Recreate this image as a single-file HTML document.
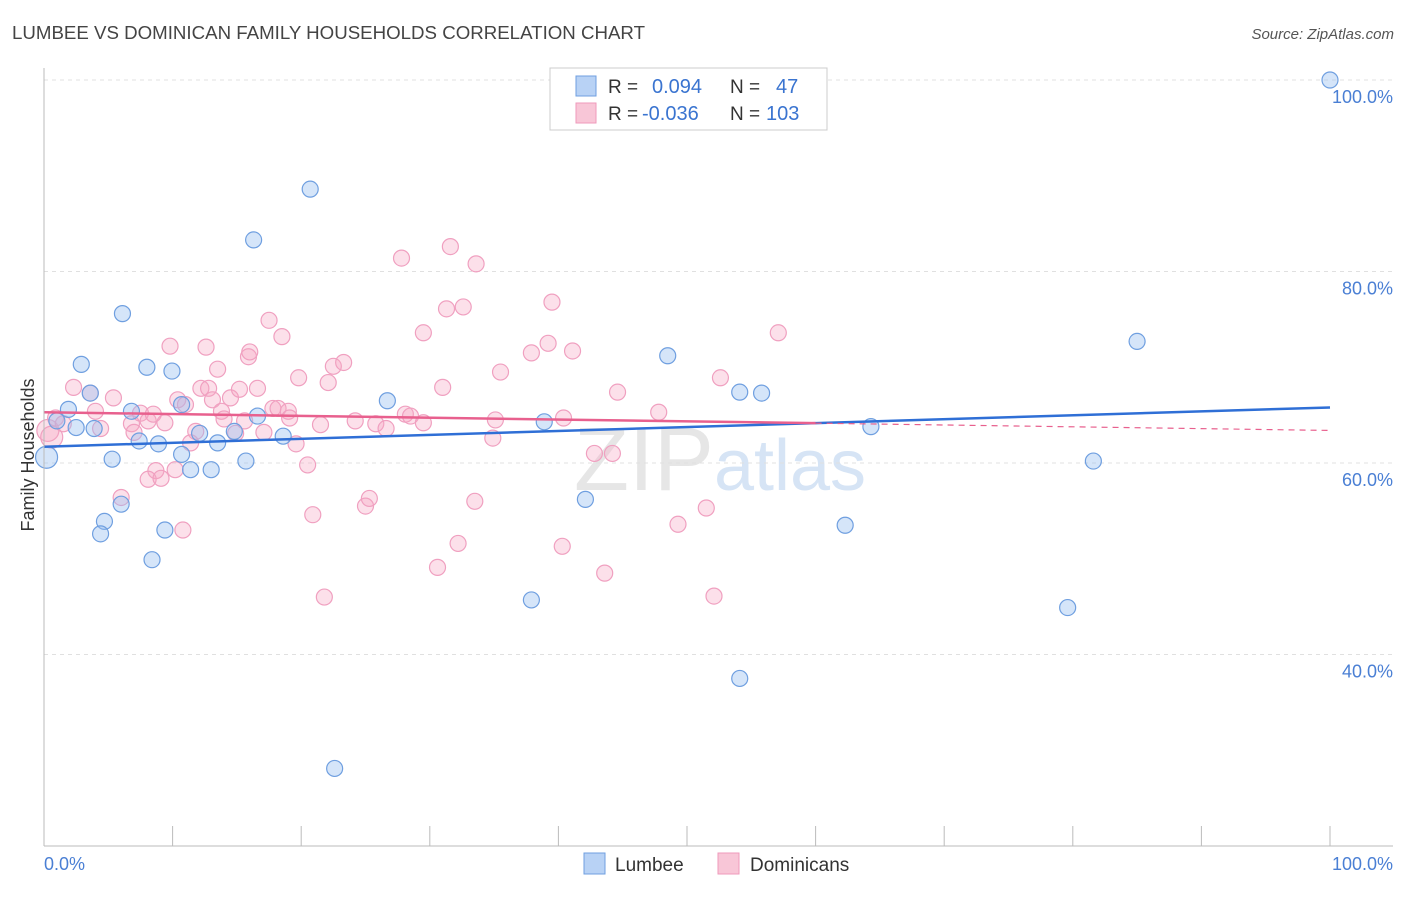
<!DOCTYPE html>
<html><head><meta charset="utf-8"><style>
body{margin:0;background:#fff;font-family:"Liberation Sans",sans-serif;}
svg text{font-family:"Liberation Sans",sans-serif;}
</style></head><body>
<svg id="chart" width="1406" height="892">
<text x="12" y="39" font-size="18" fill="#444" textLength="633" lengthAdjust="spacingAndGlyphs">LUMBEE VS DOMINICAN FAMILY HOUSEHOLDS CORRELATION CHART</text>
<text x="1394" y="39" font-size="15" fill="#555" font-style="italic" text-anchor="end">Source: ZipAtlas.com</text>
<text x="720" y="490" font-size="90" fill="#e6e6e6" text-anchor="middle" font-family="Liberation Serif">ZIP<tspan fill="#d6e4f5" font-family="Liberation Sans" font-size="72">atlas</tspan></text>
<text transform="translate(34,455) rotate(-90)" font-size="18" fill="#333" text-anchor="middle">Family Households</text>
<g id="grid"></g><g id="pts"></g><g id="lines"></g>
<line x1="44" y1="68" x2="44" y2="846" stroke="#bbb"/>
<line x1="44" y1="846" x2="1393" y2="846" stroke="#bbb"/>
<text x="44" y="870" font-size="18" fill="#4a7fd4">0.0%</text>
<text x="1393" y="870" font-size="18" fill="#4a7fd4" text-anchor="end">100.0%</text>
<g>
<rect x="550" y="68" width="277" height="62" fill="#fff" stroke="#ccc"/>
<rect x="576" y="76" width="20" height="20" fill="#b8d2f5" stroke="#6f9fe0"/>
<rect x="576" y="103" width="20" height="20" fill="#f8c6d7" stroke="#ef9abb"/>
<text x="608" y="93" font-size="19" fill="#333">R =</text>
<text x="652" y="93" font-size="20" fill="#3a74d0">0.094</text>
<text x="730" y="93" font-size="19" fill="#333">N =</text>
<text x="776" y="93" font-size="20" fill="#3a74d0">47</text>
<text x="608" y="120" font-size="19" fill="#333">R =</text>
<text x="642" y="120" font-size="20" fill="#3a74d0">-0.036</text>
<text x="730" y="120" font-size="19" fill="#333">N =</text>
<text x="766" y="120" font-size="20" fill="#3a74d0">103</text>
</g>
<g>
<rect x="584" y="853" width="21" height="21" fill="#b8d2f5" stroke="#6f9fe0"/>
<text x="615" y="871" font-size="19" fill="#333">Lumbee</text>
<rect x="718" y="853" width="21" height="21" fill="#f8c6d7" stroke="#ef9abb"/>
<text x="750" y="871" font-size="19" fill="#333">Dominicans</text>
</g>
</svg>
<script>
const yTicks=[100,80,60,40];
const xTicks=[0,10,20,30,40,50,60,70,80,90,100];
const blueX=[100,20.7,16.3,6.1,2.9,8.0,9.95,48.5,85.0,26.7,54.1,55.8,1.9,1.0,3.6,6.8,10.7,16.6,38.9,2.5,3.9,7.4,8.9,12.1,13.5,14.8,18.6,64.3,0.2,5.3,10.7,11.4,13.0,15.7,81.6,42.1,6.0,4.7,4.4,9.4,62.3,8.4,37.9,79.6,54.1,22.6];
const blueY=[100,88.6,83.3,75.6,70.3,70.0,69.6,71.2,72.7,66.5,67.4,67.3,65.6,64.4,67.3,65.4,66.1,64.9,64.3,63.7,63.6,62.3,62.0,63.1,62.1,63.3,62.8,63.8,60.6,60.4,60.9,59.3,59.3,60.2,60.2,56.2,55.7,53.9,52.6,53.0,53.5,49.9,45.7,44.9,37.5,28.1];
const pinkX=[0.3,0.6,0.9,1.5,2.3,3.6,4.0,4.4,5.4,6.0,6.8,7.0,7.5,8.1,8.5,8.7,8.1,9.1,9.4,9.8,10.2,10.4,10.8,11.0,11.4,11.8,12.2,12.6,12.8,13.1,13.5,13.8,14.0,14.5,14.9,15.2,15.6,15.9,16.0,16.6,17.1,17.5,17.8,18.2,18.5,19.0,19.1,19.6,19.8,20.5,20.9,21.5,21.8,22.1,22.5,23.3,24.2,25.0,25.3,25.8,26.6,27.8,28.1,28.5,29.5,29.5,30.6,31.0,31.3,31.6,32.2,32.6,33.6,33.5,34.9,35.1,35.5,37.9,39.2,39.5,40.4,40.3,41.1,42.8,43.6,44.2,44.6,47.8,49.3,51.5,52.1,52.6,57.1];
const pinkY=[63.4,62.7,64.7,64.1,67.9,67.3,65.4,63.6,66.8,56.4,64.1,63.2,65.2,64.4,65.1,59.2,58.3,58.4,64.2,72.2,59.3,66.6,53.0,66.1,62.1,63.3,67.8,72.1,67.8,66.6,69.8,65.4,64.6,66.8,63.1,67.7,64.4,71.1,71.6,67.8,63.2,74.9,65.7,65.7,73.2,65.4,64.7,62.0,68.9,59.8,54.6,64.0,46.0,68.4,70.1,70.5,64.4,55.5,56.3,64.1,63.6,81.4,65.1,64.9,64.2,73.6,49.1,67.9,76.1,82.6,51.6,76.3,80.8,56.0,62.6,64.5,69.5,71.5,72.5,76.8,64.7,51.3,71.7,61.0,48.5,61.0,67.4,65.3,53.6,55.3,46.1,68.9,73.6];
const blueTrend=[61.7,65.8];
const pinkTrend=[65.3,63.4];
const sx=v=>44+v*12.86;
const sy=v=>846-(v-20)*9.575;
const NS='http://www.w3.org/2000/svg';
function mk(t,a,p){const e=document.createElementNS(NS,t);for(const k in a)e.setAttribute(k,a[k]);p.appendChild(e);return e;}
const grid=document.getElementById('grid');
yTicks.forEach(v=>{
 const l=mk('line',{x1:44,x2:1393,y1:sy(v),y2:sy(v),stroke:'#e0e0e0','stroke-dasharray':'4,4'},grid);
 
 
 const t=mk('text',{x:1393,y:sy(v)+23,'font-size':18,fill:'#4a7fd4','text-anchor':'end'},grid);
 t.textContent=v.toFixed(1)+'%';
 
 
});
xTicks.forEach(v=>{
 const l=mk('line',{x1:sx(v),x2:sx(v),y1:826,y2:846,stroke:'#bbb'},grid);
 
 
});
const pts=document.getElementById('pts');
pinkX.forEach((x,i)=>{
 const c=mk('circle',{cx:sx(x),cy:sy(pinkY[i]),r:i<2?11:8,fill:'rgba(245,165,195,0.35)',stroke:'#f0a0c0','stroke-width':1.2},pts);
 
 
});
blueX.forEach((x,i)=>{
 const c=mk('circle',{cx:sx(x),cy:sy(blueY[i]),r:x<1?11:8,fill:'rgba(150,190,240,0.4)',stroke:'#6f9fe0','stroke-width':1.2},pts);
 
 
});
const ln=document.getElementById('lines');
const b=mk('line',{x1:sx(0),y1:sy(blueTrend[0]),x2:sx(100),y2:sy(blueTrend[1]),stroke:'#2f6fd6','stroke-width':2.5},ln);


const pm=pinkTrend[0]+(pinkTrend[1]-pinkTrend[0])*0.6;
const p1=mk('line',{x1:sx(0),y1:sy(pinkTrend[0]),x2:sx(60),y2:sy(pm),stroke:'#e8608e','stroke-width':2.5},ln);


const p2=mk('line',{x1:sx(60),y1:sy(pm),x2:sx(100),y2:sy(pinkTrend[1]),stroke:'#e8608e','stroke-width':1.2,'stroke-dasharray':'6,5'},ln);


</script>
</body></html>
